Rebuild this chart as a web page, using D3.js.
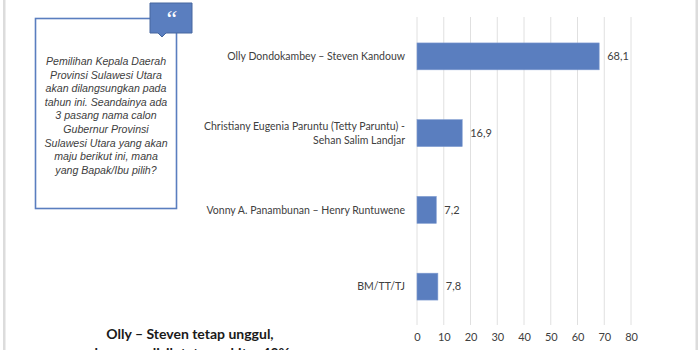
<!DOCTYPE html>
<html>
<head>
<meta charset="utf-8">
<script src="https://cdn.jsdelivr.net/npm/d3@7"></script>
<style>
  html, body { margin: 0; padding: 0; background: #fff; }
  svg { display: block; font-family: Lato, "Open Sans", sans-serif; }
</style>
</head>
<body>
<svg id="chart" width="700" height="350"></svg>
<script>
// Candidate pairs and their share of the vote (%)
const categories = [
  ["Olly Dondokambey – Steven Kandouw"],
  ["Christiany Eugenia Paruntu (Tetty Paruntu) -", "Sehan Salim Landjar"],
  ["Vonny A. Panambunan – Henry Runtuwene"],
  ["BM/TT/TJ"]
];
const values = [68.1, 16.9, 7.2, 7.8];
const valueLabels = ["68,1", "16,9", "7,2", "7,8"];
const ticks = [0, 10, 20, 30, 40, 50, 60, 70, 80];

const questionLines = [
  "Pemilihan Kepala Daerah",
  "Provinsi Sulawesi Utara",
  "akan dilangsungkan pada",
  "tahun ini. Seandainya ada",
  "3 pasang nama calon",
  "Gubernur Provinsi",
  "Sulawesi Utara yang akan",
  "maju berikut ini, mana",
  "yang Bapak/Ibu pilih?"
];
const headlineLines = [
  "Olly – Steven tetap unggul,",
  "dengan selisih tetap sekitar 40%"
];

const svg = d3.select("#chart");
const barColor = "#5a7ebf";
const textColor = "#404040";

// page edges
svg.append("rect").attr("x", 3).attr("y", 0).attr("width", 2.5).attr("height", 350).attr("fill", "#dcdcdc");
svg.append("rect").attr("x", 695.5).attr("y", 0).attr("width", 2.5).attr("height", 350).attr("fill", "#dcdcdc");

// scales
const x = d3.scaleLinear().domain([0, 80]).range([417, 631]);
const y = d3.scaleBand().domain(d3.range(values.length)).range([18, 325]).paddingInner(0.65).paddingOuter(0.325);

// vertical gridlines
svg.append("g").selectAll("line").data(ticks).join("line")
  .attr("x1", d => x(d)).attr("x2", d => x(d))
  .attr("y1", 17).attr("y2", 325)
  .attr("stroke", "#e0e0e0").attr("stroke-width", 1);

// x axis tick labels
const xAxis = d3.axisBottom(x).tickValues(ticks).tickSize(0).tickPadding(0).tickFormat(d3.format("d"));
const ax = svg.append("g").attr("transform", "translate(0,333)").call(xAxis);
ax.select(".domain").remove();
ax.selectAll("text").attr("fill", textColor).attr("font-size", 11).attr("font-family", "Lato, sans-serif");

// bars
svg.append("g").selectAll("rect").data(values).join("rect")
  .attr("x", x(0))
  .attr("y", (d, i) => y(i))
  .attr("width", d => x(d) - x(0))
  .attr("height", y.bandwidth())
  .attr("fill", barColor)
  .attr("stroke", "#7d9ad0").attr("stroke-width", 0.6);

// value labels
svg.append("g").selectAll("text").data(values).join("text")
  .attr("x", d => x(d) + 8)
  .attr("y", (d, i) => y(i) + y.bandwidth() / 2)
  .attr("dy", "0.35em")
  .attr("font-size", 11)
  .attr("fill", textColor)
  .text((d, i) => valueLabels[i]);

// category labels
const catG = svg.append("g");
categories.forEach((lines, i) => {
  const cy = y(i) + y.bandwidth() / 2;
  const t = catG.append("text")
    .attr("x", 405).attr("text-anchor", "end")
    .attr("font-size", 10.5).attr("fill", textColor);
  lines.forEach((ln, j) => {
    t.append("tspan")
      .attr("x", 405)
      .attr("y", cy + (j - (lines.length - 1) / 2) * 14)
      .attr("dy", "0.35em")
      .text(ln);
  });
});

// question box
svg.append("rect")
  .attr("x", 35.5).attr("y", 18.5).attr("width", 141).attr("height", 190)
  .attr("fill", "#fff").attr("stroke", "#5a7ebf").attr("stroke-width", 1.6);

const q = svg.append("text")
  .attr("text-anchor", "middle")
  .attr("font-family", "'Liberation Sans', Arial, sans-serif")
  .attr("font-size", 10.6).attr("font-style", "italic")
  .attr("fill", textColor);
questionLines.forEach((ln, i) => {
  q.append("tspan").attr("x", 106).attr("y", 65 + i * 13.6).text(ln);
});

// quote tag
svg.append("path")
  .attr("d", "M150,3 H192 V33 H166 L162,37 L158,33 H150 Z")
  .attr("fill", barColor).attr("stroke", "#46679f").attr("stroke-width", 1);
svg.append("text")
  .attr("x", 171).attr("y", 27)
  .attr("text-anchor", "middle")
  .attr("font-family", "'Liberation Serif', serif")
  .attr("font-size", 24).attr("font-style", "italic")
  .attr("fill", "#fff")
  .text("\u201C");

// headline
const h = svg.append("text")
  .attr("text-anchor", "middle")
  .attr("font-size", 14).attr("font-weight", "bold")
  .attr("fill", "#1a1a1a");
headlineLines.forEach((ln, i) => {
  h.append("tspan").attr("x", 190).attr("y", 339 + i * 19).text(ln);
});
</script>
</body>
</html>
